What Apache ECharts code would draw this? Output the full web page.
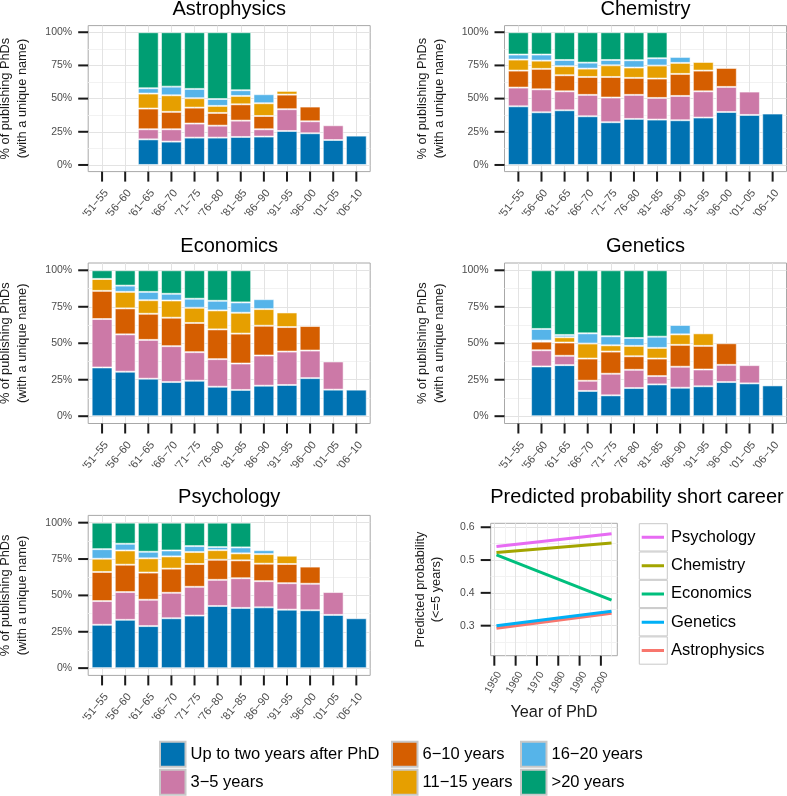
<!DOCTYPE html>
<html><head><meta charset="utf-8">
<script src="https://cdn.jsdelivr.net/npm/echarts@6/dist/echarts.min.js"></script>
<style>html,body{margin:0;padding:0;background:#fff}#chart{width:787px;height:796px}</style>
</head><body><div id="chart"></div>
<script>
// ---------- data ----------
const periods = ["'51\u221255","'56\u221260","'61\u221265","'66\u221270","'71\u221275","'76\u221280","'81\u221285","'86\u221290","'91\u221295","'96\u221200","'01\u221205","'06\u221210"];
const careerGroups = ['Up to two years after PhD','3\u22125 years','6\u221210 years','11\u221215 years','16\u221220 years','>20 years'];
const groupColors = ['#0072B2','#CC79A7','#D55E00','#E69F00','#56B4E9','#009E73'];

// share (%) of each career group (rows, in careerGroups order) per period (columns)
const astrophysics = [
  [null,null,19.3,17.6,20.6,20.6,21.1,21.4,25.6,23.9,18.8,22.1],
  [null,null, 7.6, 9.3,10.6, 9.0,12.3, 5.5,16.4, 9.0,11.1,null],
  [null,null,15.6,13.1,12.0, 9.6,12.3,10.0,11.0,11.1,null,null],
  [null,null,11.3,12.5, 7.1, 5.3, 6.3, 9.6, 2.8,null,null,null],
  [null,null, 4.0, 6.5, 7.0, 5.2, 4.3, 6.8,null,null,null,null],
  [null,null,42.2,41.0,42.7,50.3,43.7,null,null,null,null,null]
];
const chemistry = [
  [44.2,39.7,41.2,36.7,32.2,34.7,34.2,33.7,35.7,39.9,37.7,38.7],
  [14.1,17.3,14.3,16.1,18.6,18.1,16.3,18.3,19.8,18.9,17.6,null],
  [12.8,15.4,12.1,13.5,15.5,12.8,14.6,16.6,15.6,14.3,null,null],
  [ 8.3, 6.2, 6.8, 6.3, 8.8, 7.8, 9.8, 8.3, 6.5,null,null,null],
  [ 3.8, 4.6, 4.7, 4.5, 4.0, 5.5, 5.5, 4.5,null,null,null,null],
  [16.8,16.8,20.9,22.9,20.9,21.1,19.6,null,null,null,null,null]
];
const economics = [
  [33.4,30.5,25.7,23.4,24.3,20.2,18.0,20.9,21.4,26.1,18.2,18.2],
  [33.2,25.6,26.6,24.6,19.6,18.9,18.1,20.7,22.9,18.9,19.3,null],
  [19.3,17.8,17.9,19.5,20.0,20.4,20.5,20.4,16.8,16.8,null,null],
  [ 8.2,11.3, 9.3,11.8,10.4,13.0,14.3,11.4,10.0,null,null,null],
  [ 0.0, 4.3, 5.7, 4.6, 6.2, 6.6, 7.1, 6.8,null,null,null,null],
  [ 5.9,10.5,14.8,16.1,19.5,20.9,22.0,null,null,null,null,null]
];
const genetics = [
  [null,34.1,35.0,17.3,14.3,19.3,21.8,19.5,20.5,23.4,22.5,21.1],
  [null,11.1, 6.4, 7.0,14.8,12.5, 5.7,14.4,11.5,11.8,12.5,null],
  [null, 5.9, 9.1,15.2,15.2, 9.3,12.0,15.0,16.2,14.8,null,null],
  [null, 0.7, 3.6,10.3, 4.3, 7.1, 7.3, 7.2, 8.6,null,null,null],
  [null, 8.0, 1.6, 7.0, 6.2, 5.4, 7.7, 6.4,null,null,null,null],
  [null,40.2,44.3,43.2,45.2,46.4,45.5,null,null,null,null,null]
];
const psychology = [
  [29.8,33.2,28.9,34.3,36.1,42.7,41.4,41.8,40.2,39.8,36.6,34.3],
  [16.3,19.1,18.1,17.5,19.8,18.0,20.4,18.0,18.2,18.2,15.7,null],
  [20.0,18.8,18.7,16.6,15.7,13.8,12.3,12.0,13.2,11.8,null,null],
  [ 9.1, 9.8, 9.8, 8.4, 8.2, 6.6, 4.8, 6.6, 5.7,null,null,null],
  [ 6.6, 4.6, 4.5, 4.1, 4.1, 2.1, 4.1, 2.7,null,null,null,null],
  [18.2,14.5,20.0,19.1,16.1,16.8,17.0,null,null,null,null,null]
];
const yTicksPct = [0,25,50,75,100];
const yMinorPct = [12.5,37.5,62.5,87.5];

// predicted probability of a short career (<=5 years)
const predFields = ['Astrophysics','Chemistry','Economics','Genetics','Psychology'];
const predColors = ['#F8766D','#A3A500','#00BF7D','#00B0F6','#E76BF3'];
const predLegendOrder = ['Psychology','Chemistry','Economics','Genetics','Astrophysics'];
const predYears = [1951, 2005];
const predAstrophysics = [0.292, 0.338];
const predChemistry    = [0.523, 0.552];
const predEconomics    = [0.516, 0.378];
const predGenetics     = [0.300, 0.344];
const predPsychology   = [0.541, 0.580];
const predXTicks = [1950,1960,1970,1980,1990,2000];
const predXMinor = [1955,1965,1975,1985,1995,2005];
const predYTicks = [0.3,0.4,0.5,0.6];
const predYMinor = [0.25,0.35,0.45,0.55];

// ---------- chart ----------
const FONT = "'Liberation Sans', Arial, Helvetica, sans-serif";
const MAJOR = '#e3e3e3', MINOR = '#f2f2f2', BORDER = '#a8a8a8', TICK = '#1a1a1a', LABEL = '#4d4d4d';
const TICK_LEN = 10;

const grids = [], xAxes = [], yAxes = [], series = [], titles = [], tickSpecs = [];
const plainGrid = (left, top, width, height) => ({left, top, width, height, show:false, containLabel:false, outerBoundsMode:'none'});

// A ggplot-like panel: frame with background, border, major+minor gridlines, tick labels and titles.
function addPanel(c) {
  const g = grids.length;
  grids.push({left:c.left, top:c.top, width:c.width, height:c.height, show:true, backgroundColor:'#fff',
    borderColor:BORDER, borderWidth:1, containLabel:false, outerBoundsMode:'none'});
  const fx = xAxes.length;
  const xa = {gridIndex:g, type:'value', min:c.xMin, max:c.xMax, position:'bottom', axisLine:{show:false, onZero:false},
    axisTick:{show:false, customValues:c.xTicks},
    axisLabel:{customValues:c.xTicks, formatter:c.xFmt, rotate:c.xRotate, align:'right', verticalAlign:'top',
      margin:c.xMargin, fontSize:c.xFont, color:LABEL, fontFamily:FONT},
    splitLine:{show:true, lineStyle:{color:MAJOR, width:1}}};
  if (c.xName) Object.assign(xa, {name:c.xName, nameLocation:'middle', nameGap:c.xNameGap, nameMoveOverlap:false,
    nameTextStyle:{fontSize:16.3, color:'#1a1a1a', fontFamily:FONT}});
  xAxes.push(xa);
  if (c.xMinor) xAxes.push({gridIndex:g, type:'value', min:c.xMin, max:c.xMax, position:'top', axisLine:{show:false, onZero:false},
    axisTick:{show:false, customValues:c.xMinor}, axisLabel:{show:false},
    splitLine:{show:true, lineStyle:{color:MINOR, width:1}}});
  const fy = yAxes.length;
  yAxes.push({gridIndex:g, type:'value', min:c.yMin, max:c.yMax, position:'left', axisLine:{show:false, onZero:false},
    axisTick:{show:false, customValues:c.yTicks},
    axisLabel:{customValues:c.yTicks, formatter:c.yFmt, margin:16, fontSize:10.5, color:LABEL, fontFamily:FONT},
    splitLine:{show:true, lineStyle:{color:MAJOR, width:1}},
    name:c.yName, nameLocation:'middle', nameRotate:90, nameGap:c.yNameGap, nameMoveOverlap:false,
    nameTextStyle:{fontSize:12.8, lineHeight:c.yNameLH, color:'#1a1a1a', fontFamily:FONT}});
  yAxes.push({gridIndex:g, type:'value', min:c.yMin, max:c.yMax, position:'right', axisLine:{show:false, onZero:false},
    axisTick:{show:false, customValues:c.yMinor}, axisLabel:{show:false},
    splitLine:{show:true, lineStyle:{color:MINOR, width:1}}});
  tickSpecs.push({fx, fy, xMin:c.xMin, yMin:c.yMin, xTicks:c.xTicks, yTicks:c.yTicks});
  return {fx, fy};
}

const panels = [
  {name:'Astrophysics', rows:astrophysics, left:88.2,  top:25.6,  width:282, height:146,   titleY:9},
  {name:'Chemistry',    rows:chemistry,    left:504.5, top:25.6,  width:282, height:146,   titleY:9.3},
  {name:'Economics',    rows:economics,    left:88.2,  top:263,   width:282, height:160.5, titleY:246},
  {name:'Genetics',     rows:genetics,     left:504.5, top:263,   width:282, height:160.5, titleY:246.2},
  {name:'Psychology',   rows:psychology,   left:88.2,  top:515.4, width:282, height:160,   titleY:497.5}
];
// period i sits at position i + 1 on the frame's x range 0.4 .. 12.6 (ggplot's 0.6 discrete expansion)
const pos = periods.map((_, i) => i + 1);

panels.forEach((p) => {
  addPanel({left:p.left, top:p.top, width:p.width, height:p.height,
    xMin:0.4, xMax:12.6, xTicks:pos, xFmt:v => periods[Math.round(v) - 1], xRotate:50, xMargin:16, xFont:11,
    yMin:-5, yMax:105, yTicks:yTicksPct, yMinor:yMinorPct, yFmt:v => v + '%',
    yName:'% of publishing PhDs\n(with a unique name)', yNameGap:57, yNameLH:17});
  // bar grid: categorical axis, inset by 0.1 band on each side
  const unit = p.width / 12.2;
  const bg = grids.length;
  grids.push(plainGrid(p.left + 0.1 * unit, p.top, 12 * unit, p.height));
  const bxi = xAxes.length;
  xAxes.push({gridIndex:bg, type:'category', data:periods, show:false, boundaryGap:true});
  const byi = yAxes.length;
  yAxes.push({gridIndex:bg, type:'value', min:-5, max:105, show:false});
  p.rows.forEach((vals, g) => {
    series.push({type:'bar', name:careerGroups[g], xAxisIndex:bxi, yAxisIndex:byi, stack:p.name,
      barWidth:'90%', data:vals,
      itemStyle:{color:groupColors[g], borderColor:'rgba(255,255,255,0.55)', borderWidth:1},
      emphasis:{disabled:true}});
  });
  titles.push({text:p.name, left:p.left + p.width / 2, top:p.titleY, textAlign:'center', textVerticalAlign:'middle', padding:0,
    textStyle:{fontSize:20, fontWeight:'normal', color:'#000', fontFamily:FONT}});
});

// predicted probability panel
const pred = addPanel({left:490.7, top:523.3, width:126.6, height:132.4,
  xMin:1948.3, xMax:2007.7, xTicks:predXTicks, xMinor:predXMinor, xFmt:v => String(v), xRotate:60, xMargin:14, xFont:10.5,
  xName:'Year of PhD', xNameGap:49,
  yMin:0.2085, yMax:0.612, yTicks:predYTicks, yMinor:predYMinor, yFmt:v => v.toFixed(1),
  yName:'Predicted probability\n(<=5 years)', yNameGap:46, yNameLH:16});
const predValues = [predAstrophysics, predChemistry, predEconomics, predGenetics, predPsychology];
predFields.forEach((f, i) => {
  series.push({type:'line', name:f, xAxisIndex:pred.fx, yAxisIndex:pred.fy, symbol:'none', showSymbol:false,
    data:predYears.map((y, j) => [y, predValues[i][j]]),
    lineStyle:{width:3, color:predColors[i]}, itemStyle:{color:predColors[i]}, emphasis:{disabled:true}});
});
titles.push({text:'Predicted probability short career', left:637, top:497.5, textAlign:'center', textVerticalAlign:'middle',
  padding:0, textStyle:{fontSize:20, fontWeight:'normal', color:'#000', fontFamily:FONT}});

const legendText = {fontSize:16.5, color:'#000', fontFamily:FONT};
const legends = [
  {data:careerGroups.slice(0,2), left:159, top:740.8},
  {data:careerGroups.slice(2,4), left:391, top:740.8},
  {data:careerGroups.slice(4,6), left:520, top:740.8}
].map(l => Object.assign({orient:'vertical', padding:0, height:120, itemWidth:25.5, itemHeight:25, itemGap:1, icon:'rect',
  itemStyle:{borderColor:'#c8c8c8', borderWidth:2}, textStyle:legendText, selectedMode:false}, l));
// key boxes of the line legend
legends.push({data:predLegendOrder, orient:'vertical', left:638.8, top:523.2, height:250, padding:0,
  itemWidth:28, itemHeight:27.3, itemGap:0, icon:'rect',
  itemStyle:{color:'#fff', borderColor:'#c8c8c8', borderWidth:1}, formatter:() => '',
  textStyle:{fontSize:1}, selectedMode:false});
// coloured line keys + labels
legends.push({data:predLegendOrder, orient:'vertical', left:641.7, top:523.7, height:250, padding:0,
  itemWidth:22.3, itemHeight:27.3, itemGap:1,
  icon:'path://M0,0ZM0,12.15H22.3V15.15H0ZM22.3,27.3Z',
  itemStyle:{borderWidth:0}, textStyle:Object.assign({padding:[0,0,0,2]}, legendText), selectedMode:false});

const chart = echarts.init(document.getElementById('chart'), null, {renderer:'canvas'});
chart.setOption({
  animation:false,
  backgroundColor:'#fff',
  textStyle:{fontFamily:FONT},
  title:titles, grid:grids, xAxis:xAxes, yAxis:yAxes, legend:legends, series:series
});

// outward tick marks, positioned through each panel's own axes at the tick values
const tickLines = [];
tickSpecs.forEach(t => {
  const finder = {xAxisIndex:t.fx, yAxisIndex:t.fy};
  t.yTicks.forEach(v => {
    const pt = chart.convertToPixel(finder, [t.xMin, v]);
    if (pt) tickLines.push({type:'line', silent:true, z:100,
      shape:{x1:pt[0] - TICK_LEN, y1:pt[1], x2:pt[0], y2:pt[1]}, style:{stroke:TICK, lineWidth:2}});
  });
  t.xTicks.forEach(v => {
    const pt = chart.convertToPixel(finder, [v, t.yMin]);
    if (pt) tickLines.push({type:'line', silent:true, z:100,
      shape:{x1:pt[0], y1:pt[1], x2:pt[0], y2:pt[1] + TICK_LEN}, style:{stroke:TICK, lineWidth:2}});
  });
});
chart.setOption({graphic:tickLines});
</script></body></html>
